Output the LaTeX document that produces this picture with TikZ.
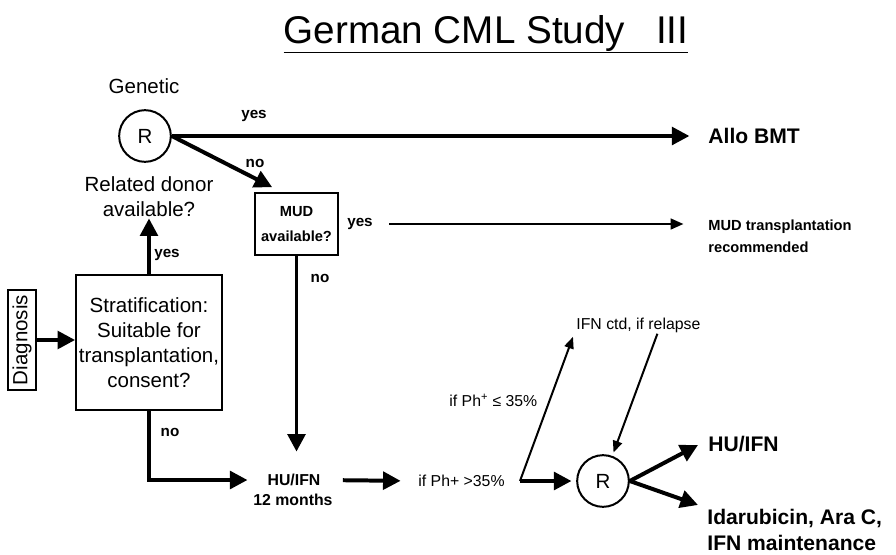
\documentclass[tikz,border=0pt]{standalone}
\usepackage{fontspec}
\setmainfont{Liberation Sans}
\usetikzlibrary{arrows.meta, positioning, calc}

\begin{document}
\begin{tikzpicture}[x=0.03cm, y=-0.03cm,
  txt/.style={font=\fontsize{17.5}{21.3}\selectfont, align=center, inner sep=1pt},
  lbl/.style={font=\fontsize{13}{15}\selectfont\bfseries, inner sep=1pt},
  note/.style={font=\fontsize{13.5}{16}\selectfont, inner sep=1pt},
  outcome/.style={font=\fontsize{18}{22}\selectfont\bfseries, align=left, inner sep=1pt},
  rand/.style={circle, draw=black, line width=1.7pt, minimum size=1.55cm, inner sep=0pt,
    font=\fontsize{17.5}{21.3}\selectfont},
  box/.style={rectangle, draw=black, line width=1.5pt, align=center},
  bigarrow/.style={-{Triangle[length=15pt, width=15pt]}, line width=3.4pt},
  thinarrow/.style={-{Triangle[length=10pt, width=8pt]}, line width=1.7pt}
]
\useasboundingbox (0,0) rectangle (896,554);

% title
\node (title) [anchor=base] at (486,43) {\fontsize{33}{40}\selectfont\underline{German CML Study\hspace{0.8em}III}};

% genetic randomisation
\node (genetic) [txt] at (144,86) {Genetic};
\node (r1) [rand] at (145,136) {R};
\node (rel) [txt] at (149,197) {Related donor\\available?};
\node (allo) [outcome, anchor=west] at (707,136) {Allo BMT};

% MUD search
\node (mud) [box, font=\fontsize{12.5}{21.3}\selectfont\bfseries, minimum width=2.49cm,
  minimum height=1.86cm, inner sep=2pt] at (296.5,224) {MUD\\available?};
\node (mudrec) [anchor=west, align=left, inner sep=1pt,
  font=\fontsize{12.5}{18.7}\selectfont\bfseries] at (707,236) {MUD transplantation\\recommended};

% stratification
\node (diag) [box, rotate=90, font=\fontsize{17.5}{21.3}\selectfont, inner sep=4pt] at (22,340) {Diagnosis};
\node (strat) [box, txt, minimum width=4.38cm, minimum height=4.05cm, inner sep=2pt]
  at (149,342.5) {Stratification:\\Suitable for\\transplantation,\\consent?};

% conventional arm
\node (hu) [font=\fontsize{13.5}{16}\selectfont\bfseries, inner sep=1pt] at (294,480) {HU/IFN};
\node (hu12) [font=\fontsize{13.5}{16}\selectfont\bfseries, inner sep=1pt] at (293,500) {12 months};
\node (ph) [note, anchor=west] at (417,481) {if Ph+ >35\%};
\node (phle) [note, anchor=west] at (448,400) {if Ph\textsuperscript{+} ≤ 35\%};
\node (ifn) [note, anchor=west] at (575,325) {IFN ctd, if relapse};
\node (r2) [rand] at (603,481) {R};
\node (hu2) [outcome, anchor=west] at (707,444) {HU/IFN};
\node (ida) [outcome, anchor=west] at (706,530) {Idarubicin, Ara C,\\IFN maintenance};
\coordinate (fork) at ($(ph.east)+(14,0)$);

% labels
\node (yes1) [lbl] at (254,116) {yes};
\node (no1) [lbl] at (255,163) {no};
\node (yes2) [lbl] at (167,255) {yes};
\node (yes3) [lbl] at (360,224) {yes};
\node (no2) [lbl] at (320,278) {no};
\node (no3) [lbl] at (170,432) {no};

% arrows
\draw [bigarrow, shorten >=15pt] (r1.east) -- (allo.west);
\draw [bigarrow] (r1.east) -- ($(mud.north west)+(18,-5)$);
\draw [bigarrow] (strat.north) -- (rel.south);
\draw [bigarrow] (diag.south) -- (diag.south -| strat.west);
\draw [thinarrow, -{Triangle[length=11pt, width=9pt]}, line width=2.2pt, shorten >=20pt]
  (yes3.east) ++(15,0) -- (mudrec.west |- yes3.east);
\draw [bigarrow, shorten >=18pt] (mud.south) -- (mud.south |- hu.north);
\draw [bigarrow, shorten >=16pt] (strat.south) |- (hu.west);
\draw [bigarrow, shorten <=18pt, shorten >=14pt] (hu.east) -- (ph.west);
\draw [bigarrow, shorten >=4pt] (fork) -- (r2);
\draw [thinarrow] (fork) -- ($(ifn.south west)+(-2,3)$);
\draw [thinarrow, shorten >=3pt] ($(ifn.south)+(19,0)$) -- (r2);
\draw [bigarrow] (r2.east) -- ($(hu2.west)+(-9,1)$);
\draw [bigarrow] (r2.east) -- ($(ida.north west)+(-8,-3)$);

\end{tikzpicture}
\end{document}
